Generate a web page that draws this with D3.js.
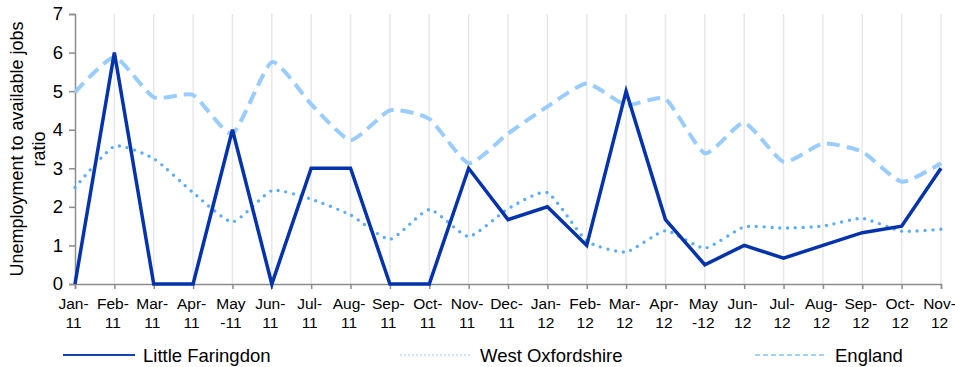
<!DOCTYPE html>
<html>
<head>
<meta charset="utf-8">
<script src="https://cdn.jsdelivr.net/npm/d3@7"></script>
<style>
  html, body { margin: 0; padding: 0; background: #fff; }
  svg { display: block; font-family: "Liberation Sans", Arial, sans-serif; }
</style>
</head>
<body>
<svg id="chart" width="955" height="367"></svg>
<script>
// Month labels (two lines each, split at the "|")
const months = ["Jan-|11","Feb-|11","Mar-|11","Apr-|11","May|-11","Jun-|11","Jul-|11","Aug-|11","Sep-|11","Oct-|11","Nov-|11","Dec-|11",
                "Jan-|12","Feb-|12","Mar-|12","Apr-|12","May|-12","Jun-|12","Jul-|12","Aug-|12","Sep-|12","Oct-|12","Nov-|12"];

const littleFaringdon = [0, 6, 0, 0, 4, 0, 3, 3, 0, 0, 3, 1.67, 2, 1, 5, 1.67, 0.5, 1, 0.67, 1, 1.33, 1.5, 3];
const westOxfordshire = [2.5, 3.57, 3.25, 2.37, 1.61, 2.42, 2.2, 1.79, 1.16, 1.93, 1.23, 1.95, 2.37, 1.12, 0.83, 1.38, 0.93, 1.48, 1.45, 1.5, 1.7, 1.37, 1.42];
const england = [4.97, 5.88, 4.84, 4.9, 3.9, 5.75, 4.66, 3.73, 4.5, 4.28, 3.13, 3.9, 4.6, 5.2, 4.64, 4.8, 3.39, 4.18, 3.17, 3.64, 3.43, 2.65, 3.13];

const yTicks = [0, 1, 2, 3, 4, 5, 6, 7];

const series = [
  { name: "Little Faringdon", values: littleFaringdon, color: "#0433AC", width: 3.5, dash: null, cap: "butt", smooth: false,
    legendColor: "#1440B8", legendWidth: 2, legendDash: null },
  { name: "West Oxfordshire", values: westOxfordshire, color: "#5AACFF", width: 3.4, dash: "0,7.8", cap: "round", smooth: true,
    legendColor: "#CFE5FF", legendWidth: 2, legendDash: "2,2" },
  { name: "England", values: england, color: "#99CCFF", width: 4, dash: "13,7", cap: "butt", smooth: true,
    legendColor: "#A9D3FF", legendWidth: 2, legendDash: "5,3" }
];

const svg = d3.select("#chart");
const plotLeft = 75, plotRight = 941, plotTop = 14, plotBottom = 284;

const x = d3.scalePoint().domain(d3.range(months.length)).range([plotLeft, plotRight]);
const y = d3.scaleLinear().domain([0, 7]).range([plotBottom, plotTop]);

// vertical gridlines at every month after the first
svg.append("g")
  .selectAll("line")
  .data(d3.range(1, months.length))
  .join("line")
  .attr("x1", d => x(d)).attr("x2", d => x(d))
  .attr("y1", plotTop).attr("y2", plotBottom)
  .attr("stroke", "#e8e8e8").attr("stroke-width", 1.5);

// y axis
const yAxis = svg.append("g")
  .attr("transform", `translate(${plotLeft},0)`)
  .call(d3.axisLeft(y).tickValues(yTicks).tickSize(6).tickPadding(6).tickFormat(d3.format("d")));
yAxis.select(".domain").attr("stroke", "#8c8c8c").attr("stroke-width", 1.5);
yAxis.selectAll(".tick line").attr("stroke", "#8c8c8c").attr("stroke-width", 1.5);
yAxis.selectAll(".tick text")
  .attr("font-size", 18.5).attr("fill", "#000")
  .attr("font-family", "Liberation Sans, Arial, sans-serif");

// x axis
const xAxis = svg.append("g")
  .attr("transform", `translate(0,${plotBottom})`)
  .call(d3.axisBottom(x).tickSize(5).tickFormat(""));
xAxis.select(".domain").attr("stroke", "#8c8c8c").attr("stroke-width", 1.5);
xAxis.selectAll(".tick line").attr("stroke", "#8c8c8c").attr("stroke-width", 1.5);
xAxis.selectAll(".tick").each(function(d) {
  const parts = months[d].split("|");
  const t = d3.select(this).append("text")
    .attr("text-anchor", "middle")
    .attr("font-size", 15.5)
    .attr("font-family", "Liberation Sans, Arial, sans-serif")
    .attr("fill", "#000");
  t.append("tspan").attr("x", -2).attr("y", 25).text(parts[0]);
  t.append("tspan").attr("x", -2).attr("y", 43.5).text(parts[1]);
});

// y axis title
const yTitle = svg.append("text")
  .attr("transform", `translate(0,${(plotTop + plotBottom) / 2}) rotate(-90)`)
  .attr("text-anchor", "middle")
  .attr("font-size", 18)
  .attr("fill", "#000");
yTitle.append("tspan").attr("x", 0).attr("y", 23).text("Unemployment to available jobs");
yTitle.append("tspan").attr("x", 0).attr("y", 44.5).text("ratio");

// series lines (drawn back to front so the local series sits on top)
[...series].reverse().forEach(s => {
  const line = d3.line()
    .x((d, i) => x(i))
    .y(d => y(d))
    .curve(s.smooth ? d3.curveCardinal.tension(0.45) : d3.curveLinear);
  svg.append("path")
    .datum(s.values)
    .attr("d", line)
    .attr("fill", "none")
    .attr("stroke", s.color)
    .attr("stroke-width", s.width)
    .attr("stroke-dasharray", s.dash)
    .attr("stroke-linecap", s.cap)
    .attr("stroke-linejoin", "miter");
});

// legend
const legendX = [63, 400, 755];
const legendY = 355;
const lg = svg.append("g").selectAll("g").data(series).join("g")
  .attr("transform", (d, i) => `translate(${legendX[i]},${legendY})`);
lg.append("line")
  .attr("x1", 0).attr("x2", 72).attr("y1", 0).attr("y2", 0)
  .attr("stroke", d => d.legendColor)
  .attr("stroke-width", d => d.legendWidth)
  .attr("stroke-dasharray", d => d.legendDash);
lg.append("text")
  .attr("x", 80).attr("y", 6.5)
  .attr("font-size", 18.5)
  .attr("fill", "#000")
  .text(d => d.name);
</script>
</body>
</html>
